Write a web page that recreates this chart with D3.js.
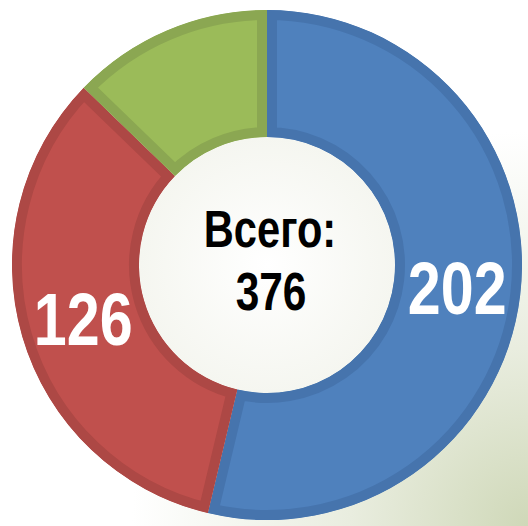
<!DOCTYPE html>
<meta charset="utf-8">
<style>
body { margin: 0; background: #fff; }
svg { display: block; }
.lbl { font-family: "Liberation Sans", Arial, sans-serif; font-weight: bold; }
</style>
<body>
<script src="https://d3js.org/d3.v7.min.js"></script>
<script>
// data
var categories = ["A", "B", "C"];
var values = [202, 126, 48];
var showLabel = [true, true, false];
var fills = ["#4f81bd", "#c0504d", "#9bbb59"];
var borders = ["#4674ad", "#ad4845", "#8ba752"];
var totalLabel = "Всего:";

var width = 528, height = 526;
var cx = 267, cy = 265, rOuter = 255, rInner = 128;
var narrow = 0.8; // squeeze the bold font to look like a narrow face

var svg = d3.select("body").append("svg")
    .attr("width", width)
    .attr("height", height);

// soft greenish background towards bottom right
var defs = svg.append("defs");
var bg = defs.append("radialGradient")
    .attr("id", "bg")
    .attr("cx", "100%").attr("cy", "100%").attr("r", "75%");
bg.append("stop").attr("offset", "0%").attr("stop-color", "#cfd8b8");
bg.append("stop").attr("offset", "45%").attr("stop-color", "#e9eddf");
bg.append("stop").attr("offset", "100%").attr("stop-color", "#ffffff");
svg.append("rect").attr("width", width).attr("height", height).attr("fill", "url(#bg)");

var hole = defs.append("radialGradient").attr("id", "hole");
hole.append("stop").attr("offset", "0%").attr("stop-color", "#ffffff");
hole.append("stop").attr("offset", "100%").attr("stop-color", "#f5f6f0");

var pie = d3.pie().sort(null).value(function(d) { return d; });
var arc = d3.arc().innerRadius(rInner).outerRadius(rOuter);
var arcs = pie(values);

var g = svg.append("g").attr("transform", "translate(" + cx + "," + cy + ")");

g.append("circle").attr("r", rInner).attr("fill", "url(#hole)");

// clip each slice to itself so the border sits inside
arcs.forEach(function(d, i) {
  defs.append("clipPath").attr("id", "clip" + i)
    .append("path")
    .attr("d", arc(d));
});

g.selectAll("path.slice")
  .data(arcs)
  .enter().append("path")
    .attr("class", "slice")
    .attr("d", arc)
    .attr("fill", function(d, i) { return fills[i]; })
    .attr("stroke", function(d, i) { return borders[i]; })
    .attr("stroke-width", 20)
    .attr("clip-path", function(d, i) { return "url(#clip" + i + ")"; });

// value labels
g.selectAll("text.val")
  .data(arcs.filter(function(d, i) { return showLabel[i]; }))
  .enter().append("text")
    .attr("class", "lbl val")
    .attr("transform", function(d) {
      var c = arc.centroid(d);
      return "translate(" + c[0] + "," + c[1] + ") scale(" + narrow + ",1)";
    })
    .attr("text-anchor", "middle")
    .attr("dy", "0.36em")
    .attr("fill", "#fff")
    .attr("font-size", 74)
    .text(function(d) { return d.value; });

// centre total
var total = d3.sum(values);
g.append("text")
    .attr("class", "lbl")
    .attr("transform", "translate(3,-18) scale(" + narrow + ",1)")
    .attr("text-anchor", "middle")
    .attr("font-size", 52)
    .text(totalLabel);
g.append("text")
    .attr("class", "lbl")
    .attr("transform", "translate(4,45) scale(" + narrow + ",1)")
    .attr("text-anchor", "middle")
    .attr("font-size", 53)
    .text(total);
</script>
